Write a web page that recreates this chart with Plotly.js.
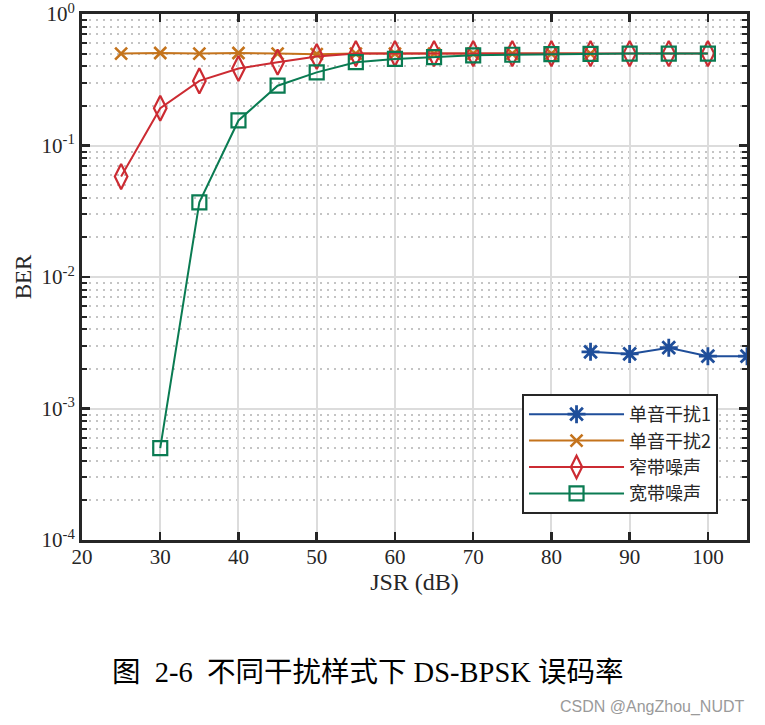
<!DOCTYPE html>
<html>
<head>
<meta charset="utf-8">
<script src="https://cdn.plot.ly/plotly-3.0.1.min.js"></script>
<style>
html,body{margin:0;padding:0;background:#fff;}
#chart{width:765px;height:725px;}
</style>
</head>
<body>
<div id="chart"></div>
<script>
// ---- data ----
const seriesNames = ["单音干扰1", "单音干扰2", "窄带噪声", "宽带噪声"];
const tone1X = [85, 90, 95, 100, 105];
const tone1Y = [2.7e-3, 2.6e-3, 2.9e-3, 2.5e-3, 2.5e-3];
const tone2X = [25, 30, 35, 40, 45, 50, 55, 60, 65, 70, 75, 80, 85];
const tone2Y = [0.50, 0.505, 0.50, 0.505, 0.50, 0.495, 0.50, 0.50, 0.50, 0.50, 0.50, 0.50, 0.50];
const narrowX = [25, 30, 35, 40, 45, 50, 55, 60, 65, 70, 75, 80, 85, 90, 95, 100];
const narrowY = [0.058, 0.192, 0.31, 0.385, 0.43, 0.475, 0.50, 0.50, 0.50, 0.50, 0.50, 0.50, 0.50, 0.50, 0.50, 0.50];
const wideX = [30, 35, 40, 45, 50, 55, 60, 65, 70, 75, 80, 85, 90, 95, 100];
const wideY = [5e-4, 0.037, 0.155, 0.285, 0.36, 0.43, 0.455, 0.47, 0.485, 0.49, 0.495, 0.497, 0.50, 0.50, 0.50];
const yTickVals = [1e-4, 1e-3, 1e-2, 1e-1, 1];
const yTickText = ["10<sup>-4</sup>", "10<sup>-3</sup>", "10<sup>-2</sup>", "10<sup>-1</sup>", "10<sup>0</sup>"];
const xLabel = "JSR (dB)";
const yLabel = "BER";
const caption = "图  2-6  不同干扰样式下 DS-BPSK 误码率";
const watermark = "CSDN @AngZhou_NUDT";

// minor tick positions for log axis
const minorVals = [];
for (let e = -4; e < 0; e++) for (let m = 2; m <= 9; m++) minorVals.push(m * Math.pow(10, e));

const serif = "Liberation Serif, Noto Sans CJK SC, serif";
const colors = ["#1f4e9a", "#c4731c", "#cc2b32", "#0a7b52"];

const traces = [
  {x: tone1X, y: tone1Y, name: seriesNames[0], mode: "lines+markers",
   line: {color: colors[0], width: 2},
   marker: {symbol: "asterisk-open", size: 15, line: {color: colors[0], width: 2.8}}},
  {x: tone2X, y: tone2Y, name: seriesNames[1], mode: "lines+markers",
   line: {color: colors[1], width: 2},
   marker: {symbol: "x-thin-open", size: 12, line: {color: colors[1], width: 2.6}}},
  {x: narrowX, y: narrowY, name: seriesNames[2], mode: "lines+markers",
   line: {color: colors[2], width: 2},
   marker: {symbol: "diamond-tall-open", size: 18, line: {color: colors[2], width: 2.2}}},
  {x: wideX, y: wideY, name: seriesNames[3], mode: "lines+markers",
   line: {color: colors[3], width: 2},
   marker: {symbol: "square-open", size: 14, line: {color: colors[3], width: 2.2}}}
];

const layout = {
  width: 765, height: 725,
  paper_bgcolor: "#fff", plot_bgcolor: "#fff",
  margin: {l: 82, r: 18, t: 14, b: 185},
  showlegend: true,
  font: {family: serif, size: 18, color: "#262626"},
  xaxis: {
    range: [20, 105], tick0: 20, dtick: 10,
    showline: true, linecolor: "#262626", linewidth: 3, mirror: "ticks",
    ticks: "inside", ticklen: 8, tickwidth: 2.5, tickcolor: "#262626",
    showgrid: true, gridcolor: "#dcdcdc", gridwidth: 2,
    zeroline: false, ticklabeloverflow: "allow", ticklabelstandoff: -4,
    tickfont: {family: serif, size: 21, color: "#262626"},
    title: {text: xLabel, font: {family: serif, size: 24, color: "#262626"}, standoff: 0}
  },
  yaxis: {
    type: "log", range: [-4, 0],
    tickvals: yTickVals, ticktext: yTickText,
    showline: true, linecolor: "#262626", linewidth: 3, mirror: "ticks",
    ticks: "inside", ticklen: 8, tickwidth: 2.5, tickcolor: "#262626",
    showgrid: true, gridcolor: "#dcdcdc", gridwidth: 2,
    zeroline: false, ticklabeloverflow: "allow",
    tickfont: {family: serif, size: 21, color: "#262626"},
    title: {text: yLabel, font: {family: serif, size: 23, color: "#262626"}, standoff: 4},
    minor: {tickvals: minorVals, ticks: "inside", ticklen: 5, tickwidth: 2, tickcolor: "#262626",
            showgrid: true, gridcolor: "#c4c4c4", griddash: "2px,5px", gridwidth: 2}
  },
  legend: {
    x: 0.6617, y: 0.2776, xanchor: "left", yanchor: "top",
    bgcolor: "#fff", bordercolor: "#262626", borderwidth: 2,
    font: {family: "Noto Sans CJK SC, Liberation Serif", size: 18, color: "#262626"},
    itemwidth: 95, tracegroupgap: 0
  },
  annotations: [
    {text: caption, xref: "paper", yref: "paper", x: 0.042, y: -0.251, xanchor: "left", yanchor: "middle",
     showarrow: false, font: {family: "Liberation Serif, Noto Sans CJK SC", size: 28.5, color: "#000"}},
    {text: watermark, xref: "paper", yref: "paper", x: 1.0, y: -0.3175, xanchor: "right", yanchor: "middle",
     showarrow: false, font: {family: "Liberation Sans, Roboto, sans-serif", size: 16, color: "#9a9a9a"}}
  ]
};

Plotly.newPlot("chart", traces, layout, {displayModeBar: false, staticPlot: true});
</script>
</body>
</html>
